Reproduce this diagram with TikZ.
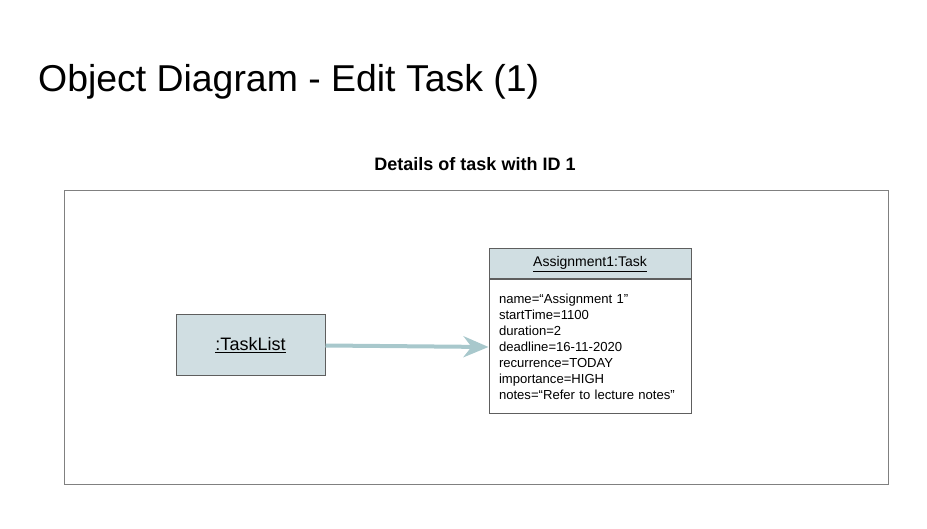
\documentclass[tikz,border=0pt]{standalone}
\usepackage{fontspec}
\setmainfont{Liberation Sans}
\usetikzlibrary{positioning,arrows.meta}
\definecolor{objfill}{HTML}{D0DEE2}
\definecolor{linkcol}{HTML}{A8C8CC}
\definecolor{edgegray}{HTML}{5E5E5E}
\tikzset{
  objbox/.style={draw=edgegray,line width=1pt,fill=objfill,inner sep=0pt},
  attrbox/.style={draw=edgegray,line width=1pt,fill=white,inner xsep=10pt,inner ysep=0pt,align=left},
}
\begin{document}
\begin{tikzpicture}[x=1pt,y=-1pt]
\useasboundingbox (0,0) rectangle (927,529);
% headings
\node[anchor=base west,inner sep=0pt,font=\fontsize{37.4}{44}\selectfont] (title) at (38,92) {Object Diagram - Edit Task (1)};
\node[anchor=base,inner sep=0pt,font=\fontsize{18}{22}\selectfont\bfseries] (caption) at (475,171) {Details of task with ID 1};
% frame
\draw[draw=gray,line width=1pt] (64,191) rectangle (888,484);
% objects
\node[objbox,minimum width=149pt,minimum height=61pt,font=\fontsize{18}{22}\selectfont] (taskList) at (250.5,345.5) {\underline{:TaskList}};
\node[objbox,minimum width=202pt,minimum height=30pt,font=\fontsize{14}{17}\selectfont] (taskHead) at (590,264) {\underline{Assignment1:Task}};
\node[attrbox,below=0pt of taskHead,text width=182pt,minimum height=134pt,font=\fontsize{13.1}{16}\selectfont] (taskBody) {name=“Assignment 1”\\
startTime=1100\\
duration=2\\
deadline=16-11-2020\\
recurrence=TODAY\\
importance=HIGH\\
notes=“Refer to lecture notes”};
% link
\draw[linkcol,line width=4pt,-{Stealth[length=25pt,width=21pt,inset=8pt]}] (taskList.east) -- (taskBody.west);
\end{tikzpicture}
\end{document}
